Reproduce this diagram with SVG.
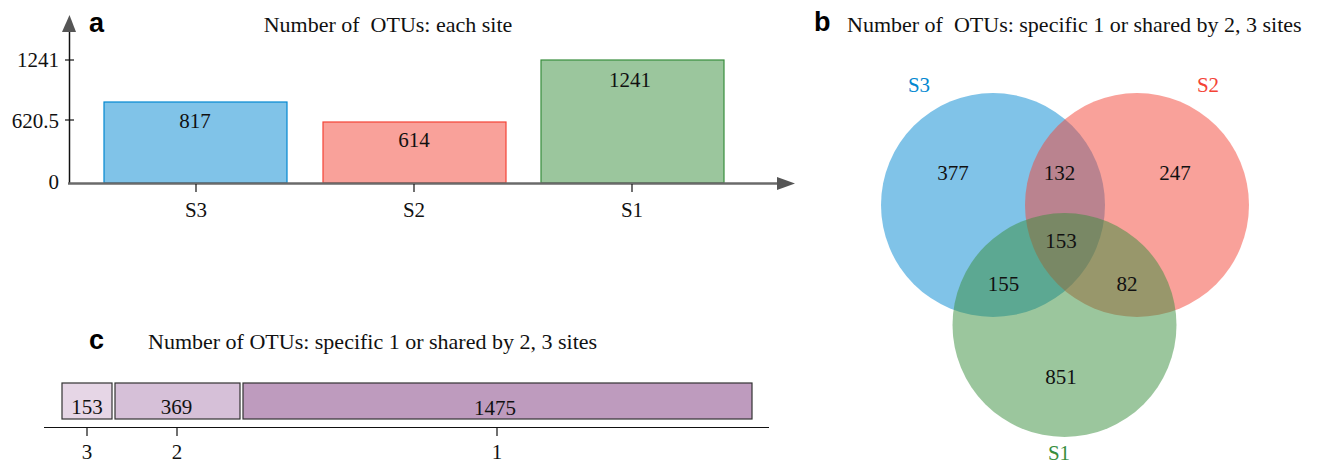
<svg xmlns="http://www.w3.org/2000/svg" width="1322" height="463" viewBox="0 0 1322 463">
<style>
text{font-family:"Liberation Serif","Times New Roman",serif;font-size:21px;fill:#111}
.t{font-size:22px}
.m{text-anchor:middle}
.e{text-anchor:end}
.lab{font-family:"Liberation Sans",Arial,sans-serif;font-weight:bold;font-size:27px;fill:#000}
.blue{fill:#0288D1}
.red{fill:#F44336}
.green{fill:#388E3C}
.c{fill-opacity:0.5}
.cb{fill:#eadcea;stroke:#333;stroke-width:1.2}
</style>
<rect width="1322" height="463" fill="#fff"/>
<g id="panel-a">
  <text class="lab" x="89" y="32">a</text>
  <text class="t m" x="388" y="32" xml:space="preserve">Number of  OTUs: each site</text>
  <g id="bar-S3"><rect x="104" y="102" width="183" height="81" fill="#0288D1" fill-opacity="0.5" stroke="#0288D1" stroke-width="1.2"/><text class="m" x="195" y="128">817</text></g>
  <g id="bar-S2"><rect x="323" y="122" width="183" height="61" fill="#F44336" fill-opacity="0.5" stroke="#F44336" stroke-width="1.2"/><text class="m" x="414" y="147">614</text></g>
  <g id="bar-S1"><rect x="541" y="60" width="183" height="123" fill="#388E3C" fill-opacity="0.5" stroke="#388E3C" stroke-width="1.2"/><text class="m" x="630" y="87">1241</text></g>
  <line x1="69.5" y1="30" x2="69.5" y2="184" stroke="#111" stroke-width="1.5"/>
  <polygon points="62,32 76,32 69.5,15" fill="#555"/>
  <line x1="68" y1="183.5" x2="779" y2="183.5" stroke="#6a6a6a" stroke-width="2.5"/>
  <polygon points="777,177 777,190 795,183.5" fill="#555"/>
  <g stroke="#111" stroke-width="1.2">
    <line x1="65" y1="60" x2="74" y2="60"/>
    <line x1="65" y1="120" x2="74" y2="120"/>
    <line x1="196" y1="184" x2="196" y2="192"/>
    <line x1="414" y1="184" x2="414" y2="192"/>
    <line x1="632" y1="184" x2="632" y2="192"/>
  </g>
  <text class="e" x="59" y="67">1241</text>
  <text class="e" x="59" y="128">620.5</text>
  <text class="e" x="59" y="189">0</text>
  <text class="m" x="196" y="217">S3</text>
  <text class="m" x="414" y="217">S2</text>
  <text class="m" x="632" y="217">S1</text>
</g>
<g id="panel-b">
  <text class="lab" x="814" y="31">b</text>
  <text class="t" x="847" y="32" xml:space="preserve">Number of  OTUs: specific 1 or shared by 2, 3 sites</text>
  <g id="circle-S3"><circle class="blue c" cx="993" cy="205" r="112"/></g>
  <g id="circle-S2"><circle class="red c" cx="1137" cy="205" r="112"/></g>
  <g id="circle-S1"><circle class="green c" cx="1064.5" cy="325" r="112"/></g>
  <text class="m blue" x="919" y="92">S3</text>
  <text class="m red" x="1208" y="92">S2</text>
  <text class="m green" x="1059" y="460">S1</text>
  <text class="m" x="953" y="180">377</text>
  <text class="m" x="1059.5" y="180">132</text>
  <text class="m" x="1175" y="180">247</text>
  <text class="m" x="1061" y="248">153</text>
  <text class="m" x="1003.5" y="291">155</text>
  <text class="m" x="1127" y="291">82</text>
  <text class="m" x="1061" y="384">851</text>
</g>
<g id="panel-c">
  <text class="lab" x="89" y="349">c</text>
  <text class="t" x="148" y="349">Number of OTUs: specific 1 or shared by 2, 3 sites</text>
  <g id="seg-3"><rect x="62" y="383" width="50" height="36" fill="#e6d6e6" stroke="#333" stroke-width="1.2"/><text class="m" x="87" y="414">153</text></g>
  <g id="seg-2"><rect x="115" y="383" width="125" height="36" fill="#d6c0d8" stroke="#333" stroke-width="1.2"/><text class="m" x="176.5" y="414">369</text></g>
  <g id="seg-1"><rect x="243" y="383" width="509" height="36" fill="#be9bbe" stroke="#333" stroke-width="1.2"/><text class="m" x="495" y="415">1475</text></g>
  <line x1="44" y1="427.5" x2="769" y2="427.5" stroke="#111" stroke-width="1.2"/>
  <g stroke="#111" stroke-width="1.2">
    <line x1="87" y1="428" x2="87" y2="436"/>
    <line x1="177" y1="428" x2="177" y2="436"/>
    <line x1="497" y1="428" x2="497" y2="436"/>
  </g>
  <text class="m" x="87" y="459">3</text>
  <text class="m" x="177" y="459">2</text>
  <text class="m" x="497" y="459">1</text>
</g>
</svg>
